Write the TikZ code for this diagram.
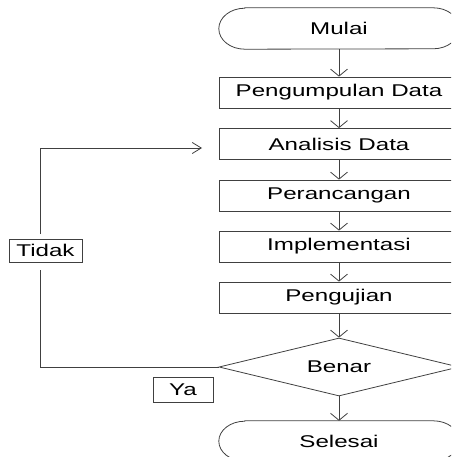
\documentclass[tikz,border=0pt]{standalone}
\usepackage{fontspec}
\setmainfont{Liberation Sans}[FakeStretch=1.42]
\usetikzlibrary{arrows.meta,shapes.geometric}
\definecolor{lc}{HTML}{404040}
\begin{document}
\begin{tikzpicture}[x=1pt,y=-1pt,
  every node/.style={font=\fontsize{17}{19}\selectfont, text=black, inner sep=0pt},
  ln/.style={draw=lc, line width=0.8pt},
  proc/.style={ln, minimum width=240pt, minimum height=31pt},
  term/.style={minimum width=240pt},
  lbl/.style={ln},
  varr/.style={ln, -{Straight Barb[length=7pt,width=17pt]}},
  harr/.style={ln, -{Straight Barb[length=9pt,width=11pt]}}
]
\useasboundingbox (0,0) rectangle (451,457);
\clip (0,0) rectangle (451,457);

% terminals
\node[term, minimum height=41pt] (mulai) at (339,28.5) {Mulai};
\draw[ln] ([xshift=26pt]mulai.north west) -- ([xshift=-26pt]mulai.north east)
  arc[start angle=90, end angle=-90, x radius=26pt, y radius=20.5pt]
  -- ([xshift=26pt]mulai.south west)
  arc[start angle=270, end angle=90, x radius=26pt, y radius=20.5pt] -- cycle;

\node[proc] (p1) at (339,92.5) {Pengumpulan Data};
\node[proc] (p2) at (339,144) {Analisis Data};
\node[proc] (p3) at (339,195.5) {Perancangan};
\node[proc] (p4) at (339,246.5) {Implementasi};
\node[proc] (p5) at (339,297.5) {Pengujian};
\node[ln, diamond, aspect=4.14, minimum width=240pt, minimum height=58pt] (dec) at (339,367) {Benar};

\node[term, minimum height=40pt] (selesai) at (339,441) {Selesai};
\draw[ln] ([xshift=26pt]selesai.north west) -- ([xshift=-26pt]selesai.north east)
  arc[start angle=90, end angle=-90, x radius=26pt, y radius=20pt]
  -- ([xshift=26pt]selesai.south west)
  arc[start angle=270, end angle=90, x radius=26pt, y radius=20pt] -- cycle;

% labels
\node[lbl, minimum width=73pt, minimum height=23pt] (tidak) at (45.5,250.5) {Tidak};
\node[lbl, minimum width=60pt, minimum height=25pt] (ya) at (183,389.5) {Ya};

% main flow
\draw[varr] (mulai.south) -- (p1.north);
\draw[varr] (p1.south) -- (p2.north);
\draw[varr] (p2.south) -- (p3.north);
\draw[varr] (p3.south) -- (p4.north);
\draw[varr] (p4.south) -- (p5.north);
\draw[varr] (p5.south) -- (dec.north);
\draw[varr] (dec.south) -- (selesai.north);

% feedback loop
\coordinate (fbA) at (40,270);
\coordinate (fbB) at (40,234);
\coordinate (fbC) at (202,148);
\draw[ln] (dec.west) -| (fbA);
\draw[harr] (fbB) |- (fbC);
\end{tikzpicture}
\end{document}
